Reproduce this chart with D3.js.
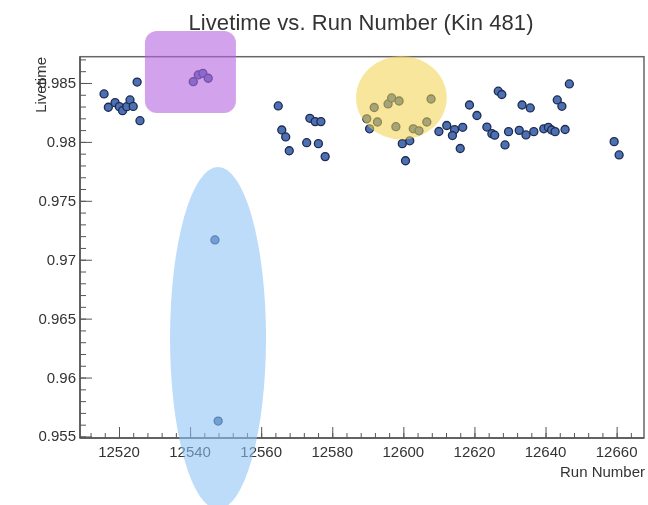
<!DOCTYPE html>
<html>
<head>
<meta charset="utf-8">
<script src="https://cdn.jsdelivr.net/npm/d3@7"></script>
<style>
  html, body { margin: 0; padding: 0; background: #fff; }
  svg { display: block; filter: blur(0.45px); }
  text { font-family: "Liberation Sans", Arial, Helvetica, sans-serif; fill: #333; }
</style>
</head>
<body>
<svg id="chart" width="648" height="505"></svg>
<script>
// ---------------- data ----------------
const runs = [
  12515.8, 12517.0, 12518.9, 12520.1, 12521.0, 12522.2, 12523.1, 12524.0, 12525.1, 12525.9,
  12540.9, 12542.3, 12543.6, 12545.1,
  12547.0, 12547.9,
  12564.8, 12573.7, 12575.2, 12576.8, 12565.8, 12566.9, 12567.9, 12572.8, 12576.1, 12578.0,
  12591.8, 12595.7, 12596.7, 12598.8, 12607.8, 12589.7, 12592.7, 12590.5, 12597.9, 12602.8,
  12604.4, 12606.6, 12599.7, 12601.8, 12600.6,
  12610.0, 12612.2, 12614.4, 12616.7, 12613.8, 12616.0, 12618.6, 12620.7, 12623.5, 12624.9,
  12625.7, 12626.7, 12627.7, 12629.6, 12628.6, 12632.6, 12634.5, 12636.7, 12633.4, 12635.7,
  12639.5, 12640.8, 12641.7, 12642.7, 12645.5, 12643.3, 12644.6, 12646.7, 12659.3, 12660.7
];
const livetime = [
  0.98407, 0.98294, 0.98333, 0.98299, 0.98265, 0.98299, 0.98356, 0.98301, 0.98508, 0.98180,
  0.98511, 0.98568, 0.98582, 0.98540,
  0.97168, 0.95631,
  0.98305, 0.98200, 0.98172, 0.98172, 0.98101, 0.98042, 0.97925, 0.97993, 0.97985, 0.97875,
  0.98292, 0.98322, 0.98373, 0.98347, 0.98364, 0.98196, 0.98169, 0.98111, 0.98129, 0.98111,
  0.98094, 0.98169, 0.97985, 0.98009, 0.97840,
  0.98088, 0.98139, 0.98104, 0.98124, 0.98054, 0.97944, 0.98313, 0.98224, 0.98126, 0.98070,
  0.98057, 0.98430, 0.98402, 0.98087, 0.97974, 0.98098, 0.98059, 0.98087, 0.98313, 0.98288,
  0.98111, 0.98124, 0.98101, 0.98087, 0.98105, 0.98356, 0.98302, 0.98492, 0.98002, 0.97889
];
const xTickValues = [12520, 12540, 12560, 12580, 12600, 12620, 12640, 12660];
const xTickLabels = ["12520", "12540", "12560", "12580", "12600", "12620", "12640", "12660"];
const yTickValues = [0.955, 0.96, 0.965, 0.97, 0.975, 0.98, 0.985];
const yTickLabels = ["0.955", "0.96", "0.965", "0.97", "0.975", "0.98", "0.985"];
const titleText = "Livetime vs. Run Number (Kin 481)";
const xTitle = "Run Number";
const yTitle = "Livetime";
// highlight regions in data units: [x0, x1, y0, y1] / ellipse [cx, cy, rx, ry]
const purpleBox = [12527.3, 12552.9, 0.98245, 0.98941];
const yellowEllipse = [12599.45, 0.98375, 12.75, 0.00354];
const blueEllipse = [12547.86, 0.96336, 13.5, 0.01451];

// ---------------- layout ----------------
const svg = d3.select("#chart");
const L = 80, R = 644, T = 56.7, B = 438;
const x = d3.scaleLinear().domain([12509.03, 12667.7]).range([L, R]);
const y = d3.scaleLinear().domain([0.95487, 0.98723]).range([B, T]);
const axisColor = "#555";

// frame
svg.append("rect").attr("x", L).attr("y", T).attr("width", R - L).attr("height", B - T)
  .attr("fill", "none").attr("stroke", "#666").attr("stroke-width", 1.5);

// x axis (ticks pointing inward)
const xMinor = d3.range(12512, 12667, 4);
const gx = svg.append("g").attr("transform", `translate(0,${B})`);
gx.call(d3.axisTop(x).tickValues(xMinor).tickSize(5).tickFormat(""))
  .call(g => g.select(".domain").remove())
  .selectAll("line").attr("stroke", axisColor);
const gx2 = svg.append("g").attr("transform", `translate(0,${B})`);
gx2.call(d3.axisTop(x).tickValues(xTickValues).tickSize(11).tickFormat(""))
  .call(g => g.select(".domain").remove())
  .selectAll("line").attr("stroke", axisColor);
svg.append("g").selectAll("text").data(xTickValues).join("text")
  .attr("x", d => x(d)).attr("y", 457).attr("text-anchor", "middle")
  .attr("font-size", 15).text((d, i) => xTickLabels[i]);

// y axis
const yMinor = d3.range(0.955, 0.9872, 0.001);
const gy = svg.append("g").attr("transform", `translate(${L},0)`);
gy.call(d3.axisRight(y).tickValues(yMinor).tickSize(6).tickFormat(""))
  .call(g => g.select(".domain").remove())
  .selectAll("line").attr("stroke", axisColor);
const gy2 = svg.append("g").attr("transform", `translate(${L},0)`);
gy2.call(d3.axisRight(y).tickValues(yTickValues).tickSize(12).tickFormat(""))
  .call(g => g.select(".domain").remove())
  .selectAll("line").attr("stroke", axisColor);
svg.append("g").selectAll("text").data(yTickValues).join("text")
  .attr("x", 76).attr("y", d => y(d) + 5).attr("text-anchor", "end")
  .attr("font-size", 15).text((d, i) => yTickLabels[i]);

// axis lines
svg.append("line").attr("x1", L).attr("x2", R).attr("y1", B).attr("y2", B)
  .attr("stroke", axisColor).attr("stroke-width", 1.5);
svg.append("line").attr("x1", L).attr("x2", L).attr("y1", T).attr("y2", B)
  .attr("stroke", axisColor).attr("stroke-width", 1.5);

// titles
svg.append("text").attr("x", 361).attr("y", 30).attr("text-anchor", "middle")
  .attr("font-size", 22).attr("textLength", 345).attr("lengthAdjust", "spacing").text(titleText);
svg.append("text").attr("x", 645).attr("y", 477).attr("text-anchor", "end")
  .attr("font-size", 15).text(xTitle);
svg.append("text").attr("transform", "translate(46,57) rotate(-90)")
  .attr("text-anchor", "end").attr("font-size", 15).text(yTitle);

// points
const pts = runs.map((r, i) => ({ r, v: livetime[i] }));
svg.append("g").selectAll("circle").data(pts).join("circle")
  .attr("cx", d => x(d.r)).attr("cy", d => y(d.v)).attr("r", 4)
  .attr("fill", "#4d70b2").attr("stroke", "#1d2b50").attr("stroke-width", 1.3);

// highlight overlays
svg.append("rect")
  .attr("x", x(purpleBox[0])).attr("y", y(purpleBox[3]))
  .attr("width", x(purpleBox[1]) - x(purpleBox[0]))
  .attr("height", y(purpleBox[2]) - y(purpleBox[3]))
  .attr("rx", 12).attr("ry", 12)
  .attr("fill", "#b466e0").attr("fill-opacity", 0.6);
svg.append("ellipse")
  .attr("cx", x(yellowEllipse[0])).attr("cy", y(yellowEllipse[1]))
  .attr("rx", x(yellowEllipse[0] + yellowEllipse[2]) - x(yellowEllipse[0]))
  .attr("ry", y(yellowEllipse[1] - yellowEllipse[3]) - y(yellowEllipse[1]))
  .attr("fill", "#f0d24a").attr("fill-opacity", 0.55);
svg.append("ellipse")
  .attr("cx", x(blueEllipse[0])).attr("cy", y(blueEllipse[1]))
  .attr("rx", x(blueEllipse[0] + blueEllipse[2]) - x(blueEllipse[0]))
  .attr("ry", y(blueEllipse[1] - blueEllipse[3]) - y(blueEllipse[1]))
  .attr("fill", "#8cc2f5").attr("fill-opacity", 0.58);
</script>
</body>
</html>
